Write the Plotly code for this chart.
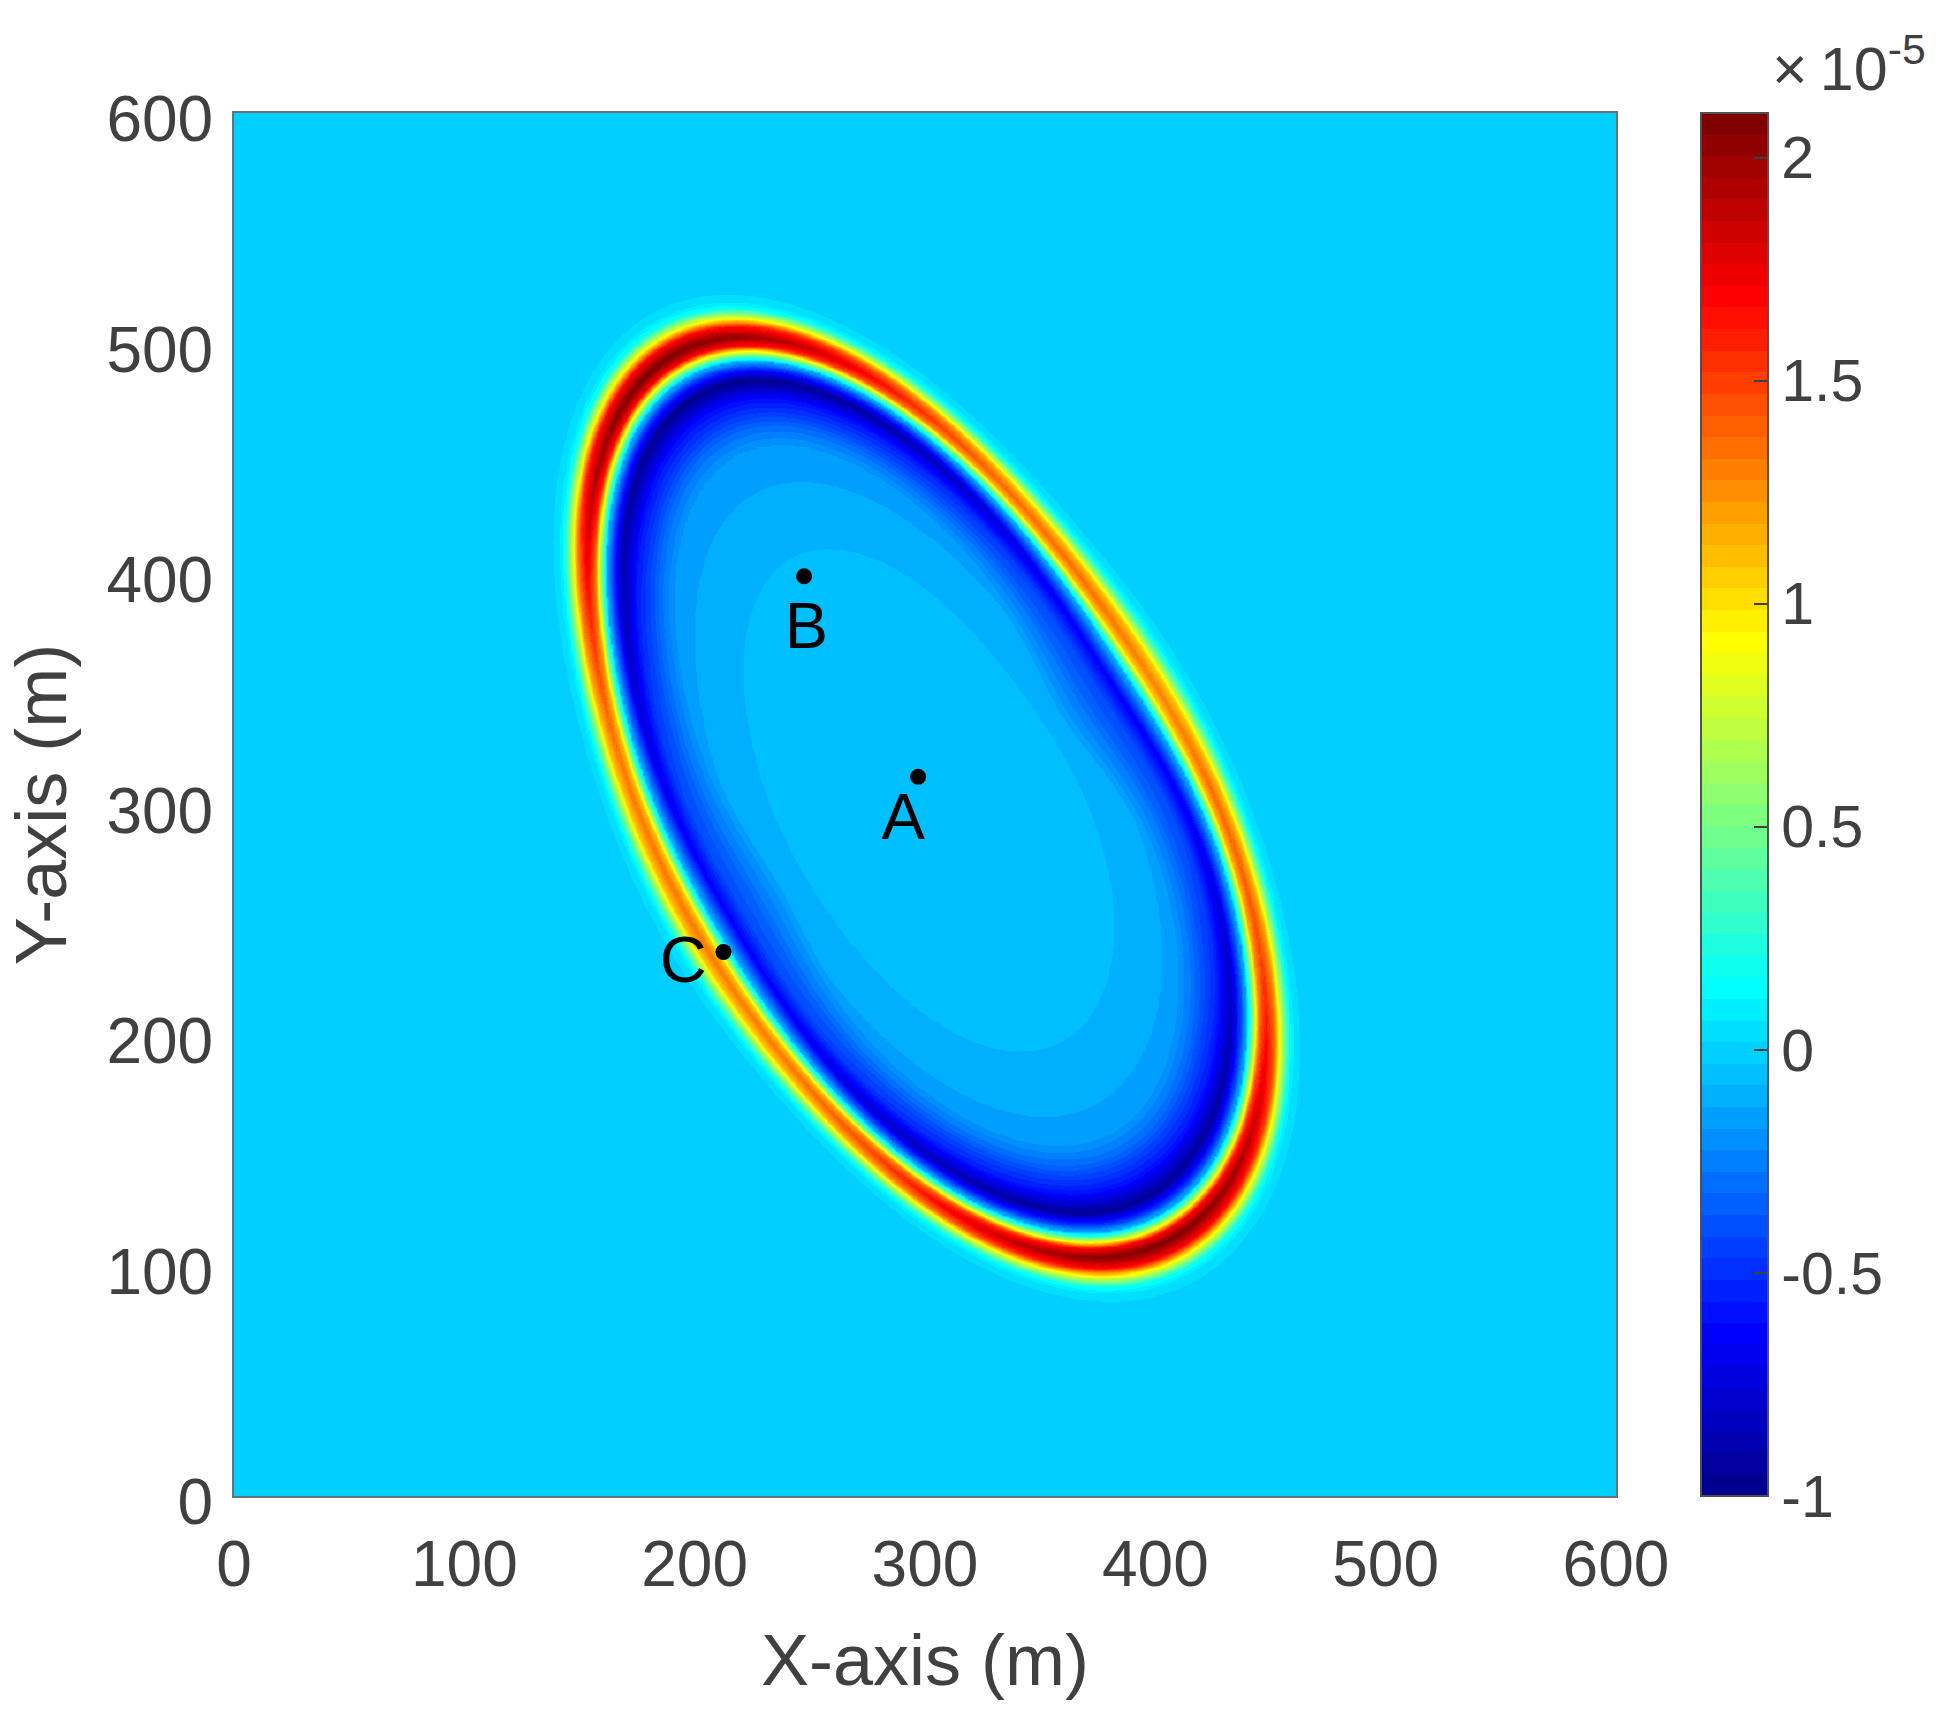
import numpy as np
import plotly.graph_objects as go

# Tick labels
AXIS_TICKS = [0, 100, 200, 300, 400, 500, 600]
CBAR_TICKS = [-1, -0.5, 0, 0.5, 1, 1.5, 2]
CBAR_TEXT = ["-1", "-0.5", "0", "0.5", "1", "1.5", "2"]
ZMIN, ZMAX = -1.0, 2.1

# Labelled points
POINT_X = [297, 247.5, 212.5]
POINT_Y = [312, 399, 236]
LABEL_X = [290.5, 248.5, 195]
LABEL_Y = [292, 375, 230]
LABEL_TEXT = ["A", "B", "C"]

# Wavefront, around its centre, one column per direction
CENTRE = (302.5, 300.5)
ANGLE = [0, 15, 30, 45, 60, 75, 90, 105, 120, 135, 150, 165,
         180, 195, 210, 225, 240, 255, 270, 285, 300, 315, 330, 345]
RIDGE_R = [127, 114, 109, 112, 118.5, 142, 166, 200.5, 223, 206, 171.5, 146,
           128.5, 118, 115.5, 120, 128, 143, 169, 204, 221, 199, 165, 139]
PEAK = [1.35, 1.33, 1.33, 1.33, 1.35, 1.4, 1.55, 1.85, 2.1, 2.0, 1.6, 1.4,
        1.35, 1.33, 1.33, 1.33, 1.33, 1.45, 1.65, 2.0, 2.1, 1.85, 1.6, 1.45]
TROUGH = [0.7, 0.65, 0.65, 0.65, 0.7, 0.75, 0.85, 0.95, 1.0, 0.95, 0.85, 0.75,
          0.7, 0.65, 0.65, 0.65, 0.7, 0.75, 0.85, 0.95, 1.0, 0.9, 0.8, 0.75]
WIDTH = [15.5, 15, 15, 15, 15, 15.5, 17, 19, 20.5, 20, 17.5, 16,
         15.5, 15, 15, 15, 15, 15.5, 17, 20, 21.5, 20, 17, 15.5]

# Section across the front: position in widths (outside positive), relative height
SECTION_T = [-3.2, -2.6, -2.1, -1.85, -1.45, -1.0, -0.7, -0.55, -0.5, -0.33, -0.21, 0,
             0.25, 0.43, 0.68, 0.85, 1.0, 1.2]
SECTION_V = [0.0, -0.15, -0.31, -0.43, -0.61, -1.0, -0.45, 0.0, 0.08, 0.45, 0.81, 1.0,
             0.81, 0.45, 0.076, 0.02, 0.008, 0.0]
# Across this stretch the trough depth gives way to the full section height
TRANSITION_T = [-2.6, -1.45]
TRANSITION_MIX = [1.0, 0.0]

# Interior level by fraction of the way from the centre to the ridge
INTERIOR_FRACTION = [0, 0.55, 0.69, 0.76]
INTERIOR_LEVEL = [-0.035, -0.08, -0.128, -0.176]

# Jet anchors
JET_POS = [0, 0.125, 0.375, 0.625, 0.875, 1]
JET_R = [0, 0, 0, 255, 255, 128]
JET_G = [0, 0, 255, 255, 0, 0]
JET_B = [128, 255, 255, 0, 0, 0]
LEVELS = 64

colorscale = []
for i in range(LEVELS):
    f = (i + 1) / LEVELS
    c = "rgb(%d,%d,%d)" % tuple(np.interp(f, JET_POS, ch) for ch in (JET_R, JET_G, JET_B))
    colorscale += [[i / LEVELS, c], [(i + 1) / LEVELS, c]]


def around(table, theta, harmonics):
    """Smooth closed curve fitted to a table read at equal angle steps."""
    coef = np.fft.rfft(np.asarray(table, float)) / len(table)
    rad = np.radians(theta)
    out = np.full(rad.shape, coef[0].real)
    for k in range(1, harmonics + 1):
        out += 2 * (coef[k].real * np.cos(k * rad) - coef[k].imag * np.sin(k * rad))
    return out


gx = np.linspace(0, 600, 601)
gy = np.linspace(0, 600, 601)
X, Y = np.meshgrid(gx, gy)
dx, dy = X - CENTRE[0], Y - CENTRE[1]
r = np.hypot(dx, dy)
th = np.degrees(np.arctan2(dy, dx)) % 360
R = around(1 / np.asarray(RIDGE_R, float) ** 2, th, 4) ** -0.5
A = around(PEAK, th, 6)
D = around(TROUGH, th, 4)
W = around(WIDTH, th, 4)
t = (r - R) / W
s = np.interp(t, SECTION_T, SECTION_V)
mix = np.interp(t, TRANSITION_T, TRANSITION_MIX)
front = np.where(s >= 0, s * A, s * (D + (1 - D) * mix))
inner = np.interp(r / R, INTERIOR_FRACTION, INTERIOR_LEVEL)
Z = np.where(t < -0.55, np.minimum(front, inner), front)

FONT = "Liberation Sans"
INK = "#404040"
FRAME = "rgba(50,70,80,0.75)"

fig = go.Figure()
fig.add_trace(go.Heatmap(
    x=gx, y=gy, z=Z, zmin=ZMIN, zmax=ZMAX, zsmooth="best", colorscale=colorscale,
    hoverinfo="skip",
    colorbar=dict(
        x=1.0615, xanchor="left", xpad=0, ypad=0, y=0.5, yanchor="middle",
        lenmode="fraction", len=1, thicknessmode="pixels", thickness=67,
        outlinecolor="#505050", outlinewidth=2,
        tickmode="array", tickvals=CBAR_TICKS, ticktext=CBAR_TEXT,
        ticks="inside", ticklen=15, tickwidth=2, tickcolor="#404040",
        tickfont=dict(family=FONT, size=59, color=INK),
    ),
))
fig.add_trace(go.Scatter(
    x=POINT_X, y=POINT_Y, mode="markers", showlegend=False, hoverinfo="skip",
    marker=dict(color="black", size=16),
))
fig.add_trace(go.Scatter(
    x=LABEL_X, y=LABEL_Y, mode="text", text=LABEL_TEXT, showlegend=False, hoverinfo="skip",
    textfont=dict(family=FONT, size=65, color="black"),
))

axis = dict(
    range=[0, 600], tickmode="array", tickvals=AXIS_TICKS, ticks="",
    showgrid=False, zeroline=False, showline=True, mirror=True,
    linecolor=FRAME, linewidth=2,
    tickfont=dict(family=FONT, size=64, color=INK),
)
fig.update_layout(
    width=1954, height=1718, paper_bgcolor="white", plot_bgcolor="white",
    margin=dict(l=234, r=338, t=113, b=222, autoexpand=False),
    showlegend=False,
    xaxis=dict(axis, ticklabelstandoff=11,
               title=dict(text="X-axis (m)", standoff=36,
                          font=dict(family=FONT, size=72, color=INK))),
    yaxis=dict(axis, ticklabelstandoff=6, ticklabelshift=6,
               title=dict(text="Y-axis (m)", standoff=16,
                          font=dict(family=FONT, size=72, color=INK))),
    annotations=[dict(
        xref="paper", yref="paper", x=1.1115, y=1.006, xanchor="left", yanchor="bottom",
        text="×\u200910<sup>-5</sup>", showarrow=False,
        font=dict(family=FONT, size=61, color=INK),
    )],
)
fig.write_html("out.html", config={"displayModeBar": False},
               post_script="document.body.style.margin='0';")
